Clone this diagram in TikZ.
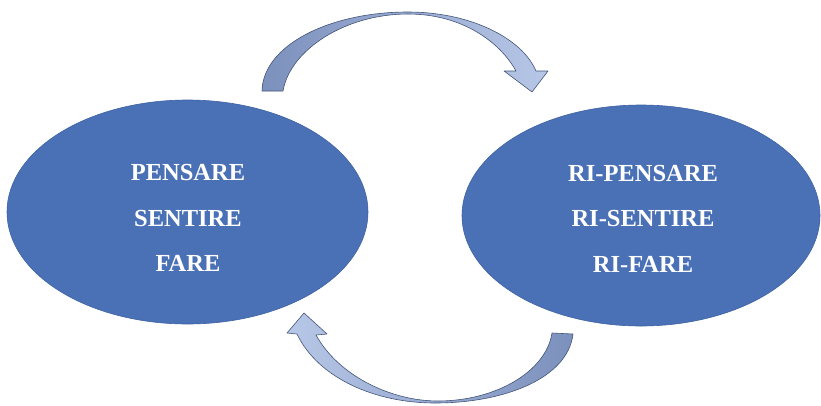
\documentclass[tikz,border=0pt]{standalone}
\usepackage{fontspec}
\setmainfont{Liberation Serif}
\usetikzlibrary{shapes.geometric}
\definecolor{ellfill}{HTML}{4A71B6}
\definecolor{elldraw}{HTML}{3E62A3}
\definecolor{arrdark}{HTML}{7B90BC}
\definecolor{arrlight}{HTML}{B7C7E7}
\definecolor{arredge}{HTML}{43557A}
\tikzset{
  bubble/.style={ellipse, fill=ellfill, draw=elldraw, line width=0.6pt, inner sep=0pt},
  bubbletext/.style={text=white, font=\fontsize{24.5}{45.5}\selectfont\bfseries, align=center, inner sep=0pt},
  curvedarrow/.style={draw=arredge, line width=0.6pt, line join=round},
}
\begin{document}
\begin{tikzpicture}[x=1pt,y=-1pt]
\useasboundingbox[fill=white] (0,0) rectangle (821,405);
% ellipses
\node[bubble, minimum width=361pt, minimum height=224pt] (L) at (187.5,212) {};
\node[bubble, minimum width=358pt, minimum height=221pt] (R) at (641,215.5) {};
\node[bubbletext] (Lt) at (188,218) {PENSARE\\SENTIRE\\FARE};
\node[bubbletext] (Rt) at (643,218.5) {RI-PENSARE\\RI-SENTIRE\\RI-FARE};
% top curved arrow
\coordinate (ta1) at (262,91);
\coordinate (ta2) at (283,91);
\coordinate (hw1) at (504,71);
\coordinate (hw2) at (548,71);
\coordinate (htip) at (532,92);
\path[curvedarrow, left color=arrdark, right color=arrlight]
  (ta1) .. controls (263,45) and (330,12) .. (408,12)
        .. controls (470,12) and (522,38) .. (536,71)
  -- (hw2) -- (htip) -- (hw1) -- (516,71)
        .. controls (500,42) and (462,14) .. (408,14)
        .. controls (345,14) and (290,50) .. (ta2)
  -- cycle;
% bottom curved arrow
\coordinate (tb1) at (552,333);
\coordinate (tb2) at (573,334);
\coordinate (bw1) at (287,333);
\coordinate (bw2) at (327,334);
\coordinate (btip) at (304,313);
\path[curvedarrow, left color=arrlight, right color=arrdark]
  (tb2) .. controls (568,378) and (505,403) .. (435,403)
        .. controls (375,403) and (318,378) .. (297,334)
  -- (bw1) -- (btip) -- (bw2) -- (316,335)
        .. controls (338,375) and (390,401) .. (438,401)
        .. controls (495,401) and (546,372) .. (tb1)
  -- cycle;
\end{tikzpicture}
\end{document}
